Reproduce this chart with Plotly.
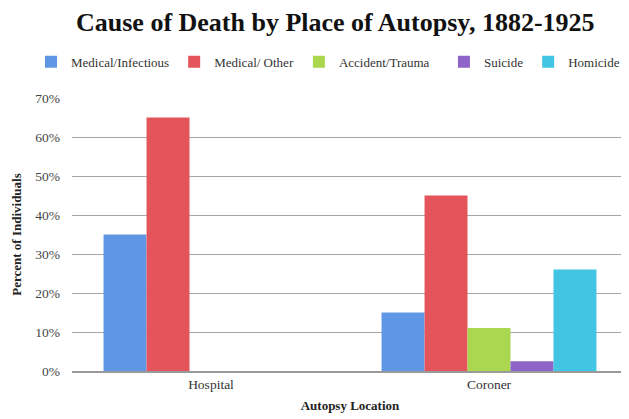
import plotly.graph_objects as go

categories = ["Hospital", "Coroner"]
series_names = ["Medical/Infectious", "Medical/ Other", "Accident/Trauma", "Suicide", "Homicide"]
medical_infectious = [35, 15]
medical_other = [65, 45]
accident_trauma = [0, 11]
suicide = [0, 2.5]
homicide = [0, 26]
colors = ["#6097e4", "#e4545b", "#aad650", "#8e64c8", "#42c4e3"]
tick_vals = [0, 10, 20, 30, 40, 50, 60, 70]
tick_text = ["0%", "10%", "20%", "30%", "40%", "50%", "60%", "70%"]

series_values = [medical_infectious, medical_other, accident_trauma, suicide, homicide]
# legend row is split in two plotly legends so that it stays on one line
legend_ids = ["legend", "legend", "legend", "legend2", "legend2"]

font_family = "Liberation Serif"

fig = go.Figure()
for name, vals, col, lg in zip(series_names, series_values, colors, legend_ids):
    fig.add_trace(go.Bar(
        x=categories, y=vals, name=name, legend=lg,
        marker=dict(color=col, line=dict(width=0)),
    ))

legend_style = dict(
    orientation="h", xref="container", yref="container",
    xanchor="left", y=0.869, yanchor="middle",
    font=dict(size=13, family=font_family, color="#333333"),
    itemwidth=30, tracegroupgap=0,
)

# page body adds an 8px margin, so the figure is sized to fill the rest of the window
fig.update_layout(
    width=621, height=411,
    barmode="group", bargap=0.227, bargroupgap=0,
    plot_bgcolor="white", paper_bgcolor="white",
    margin=dict(l=64, r=1, t=90, b=48, autoexpand=False),
    font=dict(family=font_family, color="#222222", size=13),
    title=dict(
        text="<b>Cause of Death by Place of Autopsy, 1882-1925</b>",
        x=0.527, xanchor="center", xref="container",
        y=0.966, yanchor="middle", yref="container",
        font=dict(size=26, family=font_family, color="#111111"),
    ),
    legend=dict(x=0.037, **legend_style),
    legend2=dict(x=0.702, **legend_style),
    showlegend=True,
)

fig.update_xaxes(
    automargin=False,
    showgrid=False, showline=True, linecolor="#9a9a9a", linewidth=1.5,
    ticks="", tickfont=dict(size=13.5, family=font_family, color="#333333"),
    title=dict(text="<b>Autopsy Location</b>", font=dict(size=13, family=font_family, color="#222222"), standoff=10),
)
fig.update_yaxes(
    automargin=False,
    range=[0, 70], tickvals=tick_vals, ticktext=tick_text,
    showgrid=True, gridcolor="#a6a6a6", gridwidth=1,
    zeroline=False, showline=False, ticks="",
    tickfont=dict(size=13.5, family=font_family, color="#444444"),
    ticklabelstandoff=11,
    title=dict(text="<b>Percent of Individuals</b>", font=dict(size=13, family=font_family, color="#222222"), standoff=10),
)

fig.write_html("out.html")
